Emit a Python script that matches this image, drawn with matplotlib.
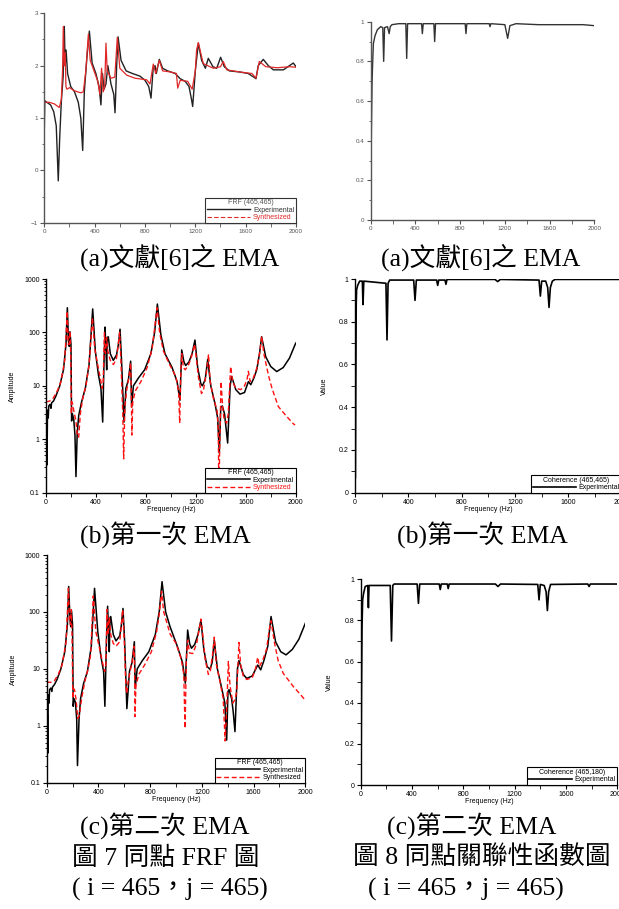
import matplotlib
matplotlib.use("Agg")
import matplotlib.pyplot as plt
from matplotlib.ticker import MultipleLocator, FixedLocator, LogLocator, NullFormatter
from matplotlib.lines import Line2D

# ---------------- data ----------------
# (a) left : FRF from ref [6], log10 amplitude
a_exp_f = [0, 4, 20, 50, 75, 95, 111, 122, 135, 150, 159, 166, 173, 185, 210, 240, 270, 290, 305, 318, 340, 358,
           380, 410, 435, 450, 462, 475, 490, 505, 530, 552, 562, 575, 586, 610, 650, 700, 760, 800, 830, 848, 865,
           880, 890, 914, 940, 980, 1040, 1080, 1120, 1150, 1170, 1179, 1200, 1224, 1250, 1280, 1303, 1340, 1370,
           1401, 1430, 1470, 1550, 1620, 1665, 1682, 1700, 1740, 1780, 1820, 1900, 1960, 1979, 2000]
a_exp_v = [0.77, 1.33, 1.3, 1.25, 1.12, 0.85, -0.2, 0.6, 1.3, 1.8, 2.75, 2.0, 2.3, 1.85, 1.6, 1.5, 1.3, 1.0, 0.38,
           1.5, 2.2, 2.66, 2.05, 1.85, 1.6, 1.25, 1.85, 1.55, 1.65, 2.0, 1.65, 1.45, 1.1, 2.0, 2.55, 2.1, 1.9, 1.85,
           1.8, 1.72, 1.6, 1.38, 1.95, 2.0, 1.85, 2.12, 1.95, 1.9, 1.85, 1.75, 1.7, 1.6, 1.35, 1.22, 1.9, 2.43, 2.1,
           1.95, 2.14, 1.98, 1.95, 2.16, 1.98, 1.9, 1.88, 1.85, 1.78, 1.75, 2.0, 2.12, 2.0, 1.92, 1.92, 2.02, 2.05,
           1.98]
a_syn_f = [0, 40, 80, 119, 135, 145, 151, 158, 166, 172, 180, 200, 240, 290, 310, 330, 350, 365, 395, 425, 442,
           455, 468, 480, 490, 500, 530, 560, 580, 600, 654, 720, 813, 840, 866, 885, 914, 940, 1000, 1050, 1060,
           1080, 1140, 1175, 1200, 1210, 1224, 1263, 1343, 1400, 1422, 1450, 1550, 1650, 1682, 1708, 1760, 1850,
           1950, 2000]
a_syn_v = [1.3, 1.3, 1.27, 1.2, 1.35, 1.9, 2.75, 2.0, 2.25, 1.6, 1.55, 1.58, 1.52, 1.48, 1.5, 1.9, 2.6, 2.1, 1.9,
           1.7, 1.45, 1.95, 1.5, 1.6, 2.43, 1.9, 1.76, 1.78, 2.54, 1.95, 1.82, 1.76, 1.73, 1.65, 2.03, 1.85, 2.1,
           1.9, 1.88, 1.85, 1.57, 1.72, 1.7, 1.55, 1.9, 2.3, 2.44, 2.04, 1.95, 1.98, 2.08, 1.92, 1.88, 1.85, 1.76,
           2.08, 1.98, 1.96, 1.98, 1.97]

# (a) right : coherence from ref [6]
a_coh_f = [0, 3, 6, 12, 18, 24, 39, 60, 90, 108, 116, 124, 150, 165, 175, 190, 250, 314, 322, 330, 400, 455, 462,
           470, 565, 572, 580, 700, 845, 852, 860, 1000, 1060, 1067, 1075, 1200, 1225, 1245, 1300, 1500, 1700, 1900,
           2000]
a_coh_v = [0.02, 0.1, 0.44, 0.69, 0.8, 0.89, 0.93, 0.96, 0.975, 0.97, 0.8, 0.97, 0.975, 0.94, 0.975, 0.985, 0.99,
           0.99, 0.815, 0.99, 0.99, 0.99, 0.94, 0.99, 0.99, 0.9, 0.99, 0.99, 0.99, 0.94, 0.99, 0.99, 0.99, 0.975,
           0.99, 0.985, 0.916, 0.98, 0.99, 0.985, 0.985, 0.985, 0.98]

# (b) left : FRF first EMA
b_exp_f = [0, 5, 8, 12, 18, 22, 32, 40, 45, 60, 80, 110, 140, 160, 171, 180, 186, 192, 200, 205, 211, 222, 232, 240,
           250, 262, 285, 315, 345, 374, 395, 420, 440, 454, 465, 473, 480, 486, 490, 499, 515, 539, 565, 580, 593,
           605, 625, 640, 660, 678, 686, 700, 740, 790, 840, 870, 892, 920, 953, 1010, 1050, 1065, 1073, 1087, 1105,
           1119, 1145, 1170, 1193, 1215, 1240, 1252, 1275, 1295, 1320, 1354, 1375, 1388, 1400, 1412, 1430, 1440,
           1455, 1475, 1487, 1520, 1554, 1590, 1621, 1640, 1665, 1688, 1710, 1727, 1760, 1800, 1848, 1900, 1950,
           2000]
b_exp_v = [3.0, 1.6, 0.33, 3.5, 2.5, 4.2, 4.5, 3.8, 4.8, 5.2, 6.5, 10, 20, 60, 290, 70, 55, 103, 60, 2.2, 3.0, 2.4,
           1.2, 0.2, 1.3, 2.8, 5, 9, 25, 275, 45, 16, 9, 2.1, 30, 126, 50, 20, 80, 83, 40, 30, 38, 60, 115, 30, 2.1,
           9, 13, 29, 4, 10, 14, 20, 40, 100, 340, 90, 40, 22, 12, 7, 5.4, 47, 28, 24, 28, 40, 72, 22, 11, 10, 13,
           31, 10, 4.6, 2.5, 0.55, 4, 4.2, 3, 1.8, 0.85, 10, 15, 8.5, 7, 7.5, 12, 10.5, 14, 20, 40, 83, 35, 23,
           18.5, 22, 33, 63]
b_syn_f = [0, 30, 60, 90, 120, 150, 162, 170, 178, 186, 192, 198, 203, 208, 214, 225, 240, 252, 262, 275, 295, 320,
           345, 372, 390, 410, 440, 450, 458, 468, 476, 486, 495, 515, 540, 565, 590, 600, 615, 622, 632, 645, 665,
           678, 683, 688, 695, 715, 760, 810, 850, 875, 890, 910, 940, 990, 1040, 1062, 1071, 1080, 1088, 1100,
           1115, 1140, 1165, 1190, 1200, 1220, 1245, 1260, 1285, 1302, 1315, 1340, 1370, 1380, 1385, 1390, 1402,
           1415, 1425, 1446, 1460, 1479, 1495, 1520, 1560, 1590, 1610, 1621, 1635, 1660, 1690, 1710, 1728, 1745,
           1781, 1810, 1861, 1920, 1981, 1995]
b_syn_v = [5, 5.2, 6, 8, 12, 30, 100, 250, 60, 60, 105, 40, 3, 5, 4.5, 3.2, 2.2, 1.1, 1.1, 3, 6, 10, 25, 190, 50,
           28, 12, 9, 12, 100, 40, 80, 45, 30, 25, 33, 100, 30, 3, 0.43, 4, 8, 15, 27, 8, 1.2, 5, 8, 12, 22, 50, 150,
           290, 100, 45, 25, 15, 8, 2, 20, 40, 22, 20, 24, 35, 60, 40, 15, 7.2, 8, 18, 39, 12, 6, 3.5, 1.5, 0.08,
           0.5, 12, 4, 2.5, 2, 3, 23, 12, 9, 8.5, 10, 13, 18.7, 12, 14, 22, 40, 85, 40, 16, 9, 4.1, 2.8, 1.95, 1.85]

# (b) right : coherence first EMA
b_coh_f = [3, 6, 9, 12, 20, 35, 55, 60, 66, 232, 240, 248, 260, 440, 450, 460, 612, 620, 628, 675, 682, 690, 1050,
           1070, 1090, 1380, 1390, 1400, 1430, 1445, 1455, 1465, 1480, 1500, 2000]
b_coh_v = [0.07, 0.5, 0.88, 0.95, 0.97, 0.99, 0.99, 0.88, 0.99, 0.98, 0.715, 0.98, 0.995, 0.995, 0.9, 0.995, 0.995,
           0.97, 0.995, 0.995, 0.975, 0.998, 0.998, 0.988, 0.998, 0.995, 0.92, 0.99, 0.99, 0.96, 0.867, 0.96, 0.99,
           0.998, 0.998]

# (c) left : FRF second EMA
c_exp_f = [0, 5, 8, 12, 18, 22, 32, 40, 45, 60, 80, 110, 140, 160, 170, 180, 186, 192, 200, 205, 211, 222, 232, 238,
           250, 262, 285, 315, 345, 370, 395, 420, 440, 450, 462, 471, 478, 484, 490, 495, 515, 536, 565, 578, 590,
           603, 620, 640, 660, 678, 684, 700, 740, 790, 840, 870, 892, 920, 954, 1010, 1050, 1063, 1072, 1090, 1105,
           1120, 1145, 1170, 1193, 1215, 1240, 1263, 1280, 1296, 1320, 1354, 1378, 1392, 1402, 1410, 1430, 1442,
           1456, 1475, 1487, 1520, 1547, 1590, 1632, 1655, 1680, 1710, 1735, 1770, 1810, 1851, 1900, 1950, 2000]
c_exp_v = [3.0, 1.5, 0.33, 3.5, 2.5, 4.3, 4.6, 4.0, 4.8, 5.3, 6.5, 10, 20, 60, 280, 75, 55, 105, 60, 2.2, 3.0, 2.6,
           1.3, 0.2, 1.3, 3.0, 5.5, 9, 25, 260, 45, 16, 9, 2.2, 30, 126, 50, 20, 80, 83, 40, 31, 38, 60, 115, 30, 2.0,
           9, 13, 30, 4.5, 10, 14, 20, 40, 100, 340, 100, 55, 25, 13, 8, 5.6, 48, 28, 23, 27, 40, 72, 22, 11, 9.8, 13,
           32, 10, 4.5, 2.5, 0.56, 4, 4.3, 3, 1.8, 0.79, 10, 14, 8, 6.8, 7.5, 11.7, 9.6, 14, 25, 83, 30, 20, 17.6,
           22, 33, 63]
c_syn_f = [0, 30, 60, 90, 120, 150, 160, 168, 176, 184, 190, 196, 202, 208, 216, 228, 240, 252, 270, 295, 320, 340,
           360, 380, 405, 435, 448, 458, 466, 474, 484, 495, 515, 536, 565, 588, 600, 612, 619, 630, 645, 665, 676,
           680, 683, 690, 712, 760, 810, 850, 870, 888, 905, 954, 1000, 1040, 1060, 1070, 1080, 1090, 1105, 1130,
           1160, 1193, 1205, 1225, 1250, 1265, 1283, 1296, 1312, 1340, 1365, 1380, 1392, 1405, 1418, 1440, 1456,
           1470, 1487, 1500, 1520, 1547, 1590, 1615, 1632, 1645, 1670, 1700, 1722, 1735, 1760, 1790, 1830, 1907,
           1960, 2000]
c_syn_v = [5.8, 5.8, 6.2, 8, 12, 30, 100, 260, 70, 60, 110, 40, 3, 4.5, 4.2, 2.8, 1.35, 1.5, 3, 6, 10, 18, 190, 45,
           25, 12, 9, 12, 110, 40, 80, 40, 28, 25, 30, 110, 30, 5, 3.7, 6, 9, 15, 25, 10, 1.45, 5, 8, 12, 20, 45, 90,
           230, 100, 41, 28, 15, 8, 0.9, 14, 32, 19, 18.6, 28, 75, 45, 15, 8, 9, 18, 36, 12, 6, 3, 0.54, 2, 13.5, 5,
           2.5, 2.9, 4, 29, 12, 7.5, 6.5, 7, 10, 16, 11, 14, 22, 50, 70, 30, 14, 8.3, 4.9, 3.6, 2.8]

# (c) right : coherence second EMA
c_coh_f = [3, 6, 10, 15, 22, 35, 55, 60, 65, 230, 240, 250, 260, 440, 450, 460, 612, 620, 628, 675, 682, 690, 1050,
           1070, 1090, 1380, 1390, 1400, 1430, 1445, 1455, 1465, 1480, 1770, 1780, 1790, 2000]
c_coh_v = [0.07, 0.45, 0.76, 0.9, 0.93, 0.965, 0.97, 0.862, 0.97, 0.97, 0.70, 0.97, 0.977, 0.977, 0.883, 0.977,
           0.977, 0.95, 0.977, 0.977, 0.955, 0.977, 0.977, 0.965, 0.977, 0.975, 0.9, 0.975, 0.97, 0.94, 0.848, 0.94,
           0.975, 0.977, 0.965, 0.977, 0.977]

freq_ticks = [0, 400, 800, 1200, 1600, 2000]

W, H = 619, 909
fig = plt.figure(figsize=(W / 100, H / 100), dpi=100)
plt.rcParams['font.family'] = ['Liberation Sans', 'DejaVu Sans']


def px_axes(l, r, t, b):
    return fig.add_axes([l / W, 1 - b / H, (r - l) / W, (b - t) / H])


def style(ax, col='black', fs=5):
    ax.spines['top'].set_visible(False)
    ax.spines['right'].set_visible(False)
    for s in ['left', 'bottom']:
        ax.spines[s].set_color(col)
        ax.spines[s].set_linewidth(1.0)
    ax.tick_params(which='both', direction='out', colors=col, labelsize=fs, pad=1.5)
    ax.tick_params(which='major', length=3, width=0.8)
    ax.tick_params(which='minor', length=1.8, width=0.6)
    ax.tick_params(axis='x', which='minor', length=3)
    ax.set_xlim(0, 2000)
    ax.xaxis.set_major_locator(FixedLocator(freq_ticks))
    ax.xaxis.set_minor_locator(MultipleLocator(200))


def legend(ax, title, handles, labels, colors, tcol='black', edge='black'):
    leg = ax.legend(handles, labels, title=title, loc='lower right', borderaxespad=0, fontsize=5,
                    title_fontsize=5, handlelength=6.2, handletextpad=0.4, borderpad=0.25,
                    labelspacing=0.05, fancybox=False, framealpha=1, edgecolor=edge)
    leg.get_frame().set_linewidth(0.8)
    leg.get_title().set_color(tcol)
    for t, c in zip(leg.get_texts(), colors):
        t.set_color(c)
    return leg


RED = '#ff1010'
GRAY = '#555555'

# ---- (a) left ----
ax = px_axes(44.3, 296, 13.3, 222.7)
style(ax, GRAY, 4.5)
l1, = ax.plot(a_exp_f, a_exp_v, color='#222222', lw=1.0)
l2, = ax.plot(a_syn_f, a_syn_v, color='#e02828', lw=0.9)
ax.set_ylim(-1, 3)
ax.yaxis.set_major_locator(MultipleLocator(1))
ax.yaxis.set_minor_locator(MultipleLocator(0.5))
h1 = Line2D([], [], color='#222222', lw=1.0)
h2 = Line2D([], [], color='#e02828', lw=0.8, ls=(0, (4, 2)))
legend(ax, 'FRF (465,465)', [h1, h2], ['Experimental', 'Synthesized'], ['#333333', '#e02828'],
       tcol='#555555', edge='#333333')

# ---- (a) right ----
ax = px_axes(370.7, 594.3, 21.7, 220)
style(ax, GRAY, 4.5)
ax.plot(a_coh_f, a_coh_v, color='#333333', lw=1.0)
ax.set_ylim(0, 1)
ax.yaxis.set_major_locator(FixedLocator([0, 0.2, 0.4, 0.6, 0.8, 1]))
ax.yaxis.set_minor_locator(MultipleLocator(0.1))
ax.set_yticklabels(['0', '0.2', '0.4', '0.6', '0.8', '1'])


def frf_panel(rect, ef, ev, sf, sv, syn_col):
    ax = px_axes(*rect)
    style(ax)
    e, = ax.plot(ef, ev, color='black', lw=1.1)
    s, = ax.plot(sf, sv, color=RED, lw=1.0, dashes=(3.5, 2))
    ax.set_yscale('log')
    ax.set_ylim(0.1, 1000)
    ax.yaxis.set_major_locator(FixedLocator([0.1, 1, 10, 100, 1000]))
    ax.yaxis.set_minor_locator(LogLocator(base=10, subs=range(2, 10), numticks=20))
    ax.yaxis.set_minor_formatter(NullFormatter())
    ax.set_yticklabels(['0.1', '1', '10', '100', '1000'])
    ax.set_xlabel('Frequency (Hz)', fontsize=5, labelpad=0)
    ax.set_ylabel('Amplitude', fontsize=5, labelpad=6)
    legend(ax, 'FRF (465,465)', [e, s], ['Experimental', 'Synthesized'], ['black', syn_col])
    return ax


def coh_panel(rect, f, v, title):
    ax = px_axes(*rect)
    style(ax)
    c, = ax.plot(f, v, color='black', lw=1.2)
    ax.set_ylim(0, 1)
    ax.yaxis.set_major_locator(FixedLocator([0, 0.2, 0.4, 0.6, 0.8, 1]))
    ax.yaxis.set_minor_locator(MultipleLocator(0.1))
    ax.tick_params(axis='y', which='minor', length=3)
    ax.set_yticklabels(['0', '0.2', '0.4', '0.6', '0.8', '1'])
    ax.set_xlabel('Frequency (Hz)', fontsize=5, labelpad=0)
    ax.set_ylabel('Value', fontsize=5, labelpad=8)
    legend(ax, title, [c], ['Experimental'], ['black'])
    return ax


frf_panel((46, 295.7, 279, 492.7), b_exp_f, b_exp_v, b_syn_f, b_syn_v, RED)
coh_panel((355, 621.7, 279, 492.7), b_coh_f, b_coh_v, 'Coherence (465,465)')
frf_panel((46.7, 305.3, 555, 782.7), c_exp_f, c_exp_v, c_syn_f, c_syn_v, 'black')
coh_panel((360.7, 617.3, 579.3, 785), c_coh_f, c_coh_v, 'Coherence (465,180)')

# ---- captions ----
cap_font = ['Liberation Serif', 'Noto Sans CJK TC']


def cap(x, y, s):
    fig.text(x / W, 1 - y / H, s, ha='center', va='center', fontsize=18.5, family=cap_font)


cap(180, 257, '(a)文獻[6]之 EMA')
cap(481, 257, '(a)文獻[6]之 EMA')
cap(165, 535, '(b)第一次 EMA')
cap(482, 535, '(b)第一次 EMA')
cap(165, 826, '(c)第二次 EMA')
cap(472, 826, '(c)第二次 EMA')
cap(166, 858, '圖 7 同點 FRF 圖')
cap(482, 858, '圖 8 同點關聯性函數圖')
cap(170, 889, '( i = 465，j = 465)')
cap(466, 889, '( i = 465，j = 465)')

fig.savefig('out.png', dpi=100)
